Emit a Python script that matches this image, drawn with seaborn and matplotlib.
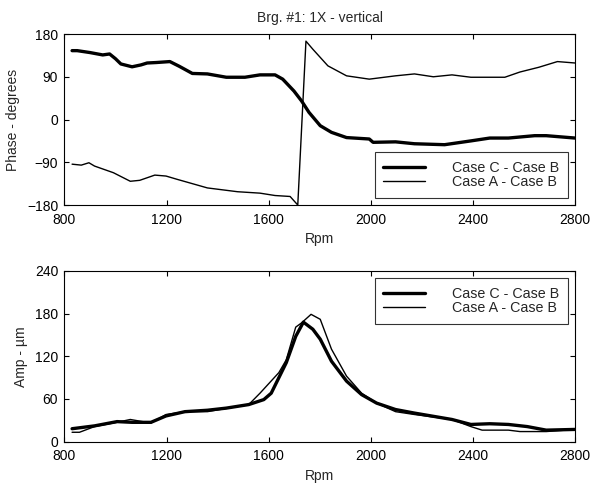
import matplotlib
matplotlib.use("Agg")
import matplotlib.pyplot as plt
import seaborn as sns
import pandas as pd

# Phase data
phase_c_rpm = [830, 850, 900, 950, 977, 1000, 1021, 1065, 1100, 1124, 1160, 1213, 1250, 1301, 1360, 1434, 1507, 1566, 1625, 1655, 1699, 1729, 1758, 1802, 1846, 1905, 1994, 2009, 2097, 2171, 2289, 2392, 2466, 2539, 2642, 2687, 2800]
phase_c_val = [145, 145, 141, 136, 138, 128, 117, 111, 115, 119, 120, 122, 112, 97, 96, 89, 89, 94, 94, 85, 60, 39, 15, -13, -27, -38, -41, -48, -47, -51, -53, -45, -39, -39, -34, -34, -39]

phase_a_rpm = [830, 866, 896, 918, 992, 1058, 1095, 1154, 1198, 1242, 1360, 1478, 1566, 1625, 1684, 1714, 1746, 1773, 1832, 1905, 1994, 2097, 2171, 2245, 2318, 2392, 2466, 2525, 2584, 2658, 2731, 2800]
phase_a_val = [-94, -96, -91, -98, -112, -130, -128, -117, -119, -126, -144, -152, -155, -160, -162, -180, 165, 148, 113, 92, 85, 92, 96, 90, 94, 89, 89, 89, 100, 110, 122, 119]

# Amplitude data
amp_c_rpm = [830, 918, 1006, 1065, 1139, 1198, 1272, 1360, 1434, 1522, 1581, 1610, 1669, 1706, 1736, 1773, 1802, 1846, 1905, 1964, 2023, 2097, 2171, 2318, 2392, 2466, 2539, 2613, 2687, 2800]
amp_c_val = [18, 22, 28, 27, 27, 36, 42, 44, 47, 52, 59, 68, 111, 148, 168, 158, 144, 113, 85, 66, 54, 45, 40, 31, 24, 25, 24, 21, 16, 17]

amp_a_rpm = [830, 859, 918, 1006, 1058, 1139, 1198, 1272, 1360, 1522, 1566, 1640, 1669, 1706, 1729, 1766, 1802, 1846, 1905, 1964, 2023, 2097, 2171, 2318, 2392, 2436, 2539, 2584, 2687, 2800]
amp_a_val = [13, 13, 21, 27, 31, 26, 38, 42, 42, 52, 68, 97, 115, 161, 167, 179, 172, 130, 92, 68, 54, 42, 38, 31, 21, 16, 16, 14, 14, 17]

labels = ["Case C - Case B", "Case A - Case B"]
x_ticks = [800, 1200, 1600, 2000, 2400, 2800]
phase_ticks = [-180, -90, 0, 90, 180]
amp_ticks = [0, 60, 120, 180, 240]

sns.set_theme(style="white")
plt.rcParams['font.family'] = ['Liberation Sans', 'DejaVu Sans']

fig = plt.figure(figsize=(5.91, 4.84), dpi=100)
ax1 = fig.add_axes([0.109, 0.5764, 0.864, 0.3533])
ax2 = fig.add_axes([0.109, 0.0878, 0.864, 0.3523])

phase_df = pd.concat([
    pd.DataFrame({"rpm": phase_c_rpm, "val": phase_c_val, "case": labels[0]}),
    pd.DataFrame({"rpm": phase_a_rpm, "val": phase_a_val, "case": labels[1]}),
])
amp_df = pd.concat([
    pd.DataFrame({"rpm": amp_c_rpm, "val": amp_c_val, "case": labels[0]}),
    pd.DataFrame({"rpm": amp_a_rpm, "val": amp_a_val, "case": labels[1]}),
])

for ax, df, yt, ylab, lloc in [(ax1, phase_df, phase_ticks, "Phase - degrees", "lower right"),
                                (ax2, amp_df, amp_ticks, "Amp - \u00b5m", "upper right")]:
    sns.lineplot(data=df, x="rpm", y="val", hue="case", size="case",
                 sizes={labels[0]: 2.4, labels[1]: 1.0},
                 palette={labels[0]: "black", labels[1]: "black"},
                 sort=False, estimator=None, ax=ax, legend=True)
    ax.set_xlim(800, 2800)
    ax.set_ylim(yt[0], yt[-1])
    ax.set_xticks(x_ticks)
    ax.set_yticks(yt)
    ax.set_xlabel("Rpm", fontsize=10, labelpad=4)
    ax.set_ylabel(ylab, fontsize=10, labelpad=5)
    ax.tick_params(direction="in", length=3.5, width=0.8, top=True, right=True,
                   bottom=True, left=True, labelsize=10, colors="black")
    ax.tick_params(axis="x", pad=5.5)
    ax.tick_params(axis="y", pad=4.5)
    for s in ax.spines.values():
        s.set_color("black")
        s.set_linewidth(0.8)
    handles, lbls = ax.get_legend_handles_labels()
    leg = ax.legend(handles, lbls, loc=lloc,
                    frameon=True, fancybox=False, fontsize=10.3, handlelength=2.9,
                    handletextpad=1.9, borderpad=0.6, labelspacing=0.05,
                    edgecolor="black", borderaxespad=0.5)
    leg.get_frame().set_linewidth(0.8)

ax1.set_title("Brg. #1: 1X - vertical", fontsize=10, pad=9)

fig.savefig("out.png", dpi=100)
